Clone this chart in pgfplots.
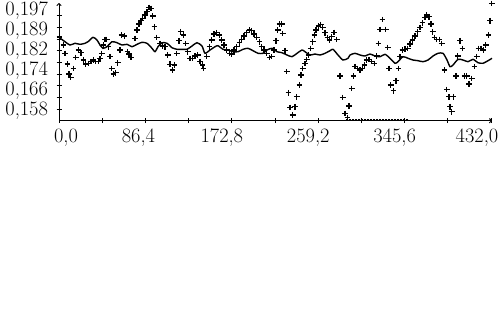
\documentclass[border=0pt]{standalone}
\usepackage{pgfplots}
\pgfplotsset{compat=1.18}
\usetikzlibrary{arrows.meta}
\begin{document}
\begin{tikzpicture}[x=1bp,y=1bp]
\path[use as bounding box] (0,0) rectangle (500,313);
\begin{axis}[
  at={(59bp,192.3bp)}, anchor=south west,
  scale only axis, width=433bp, height=117.7bp,
  xmin=0, xmax=433, ymin=0.15420, ymax=0.20034,
  axis x line=bottom, axis y line=left,
  axis line style={line width=1bp,-{To[length=3bp,width=5bp]}},
  clip=false,
  xtick={0,86.4,172.8,259.2,345.6,432},
  xticklabels={{\hspace*{34bp}0,0},{\hspace*{6bp}86,4},{172,8},{259,2},{345,6},{432,0\hspace*{8bp}}},
  minor xtick={43.2,129.6,216,302.4,388.8},
  ytick={0.15800,0.16584,0.17368,0.18152,0.18936,0.19720},
  yticklabels={{0,158},{0,166},{0,174},{0,182},{0,189},{0,197}},
  minor ytick={0.15866,0.16325,0.16784,0.17242,0.17701,0.18160,0.18618,0.19077,0.19536},
  tick align=center,
  tick style={line width=1bp,black},
  major tick length=5bp, minor tick length=5bp,
  every major y tick/.append style={draw=none},
  ticklabel style={font=\fontsize{20.5}{21}\selectfont},
  xticklabel style={xshift=-10bp, yshift=-2bp},
  yticklabel style={xshift=-5bp},
]
% solid line
\addplot[black, line width=1.4bp, smooth, tension=0.4] coordinates {
(0,0.18689)(6,0.18516)(11,0.18387)(16,0.18454)(21,0.18414)(26,0.18454)(29,0.18516)
(34,0.18689)(38,0.18583)(41,0.18387)(44,0.18258)(48,0.18320)(53,0.18516)(58,0.18477)
(63,0.18387)(68,0.18414)(73,0.18320)(78,0.18414)(83,0.18493)(88,0.18454)(93,0.18258)
(96,0.18124)(99,0.18320)(103,0.18477)(108,0.18454)(113,0.18281)(118,0.18219)(123,0.18219)
(128,0.18219)(133,0.18348)(138,0.18477)(143,0.18348)(146,0.18062)(151,0.18191)(156,0.18320)
(159,0.18360)(164,0.18219)(169,0.18191)(174,0.18124)(179,0.18124)(184,0.18219)(189,0.18258)
(194,0.18164)(199,0.18062)(204,0.18062)(208,0.18191)(213,0.18258)(218,0.18124)(223,0.18085)
(228,0.17995)(233,0.17929)(238,0.18062)(243,0.18191)(246,0.18124)(251,0.17995)(256,0.18034)
(261,0.17995)(266,0.18062)(271,0.18164)(274,0.18219)(279,0.17995)(284,0.17799)(289,0.17866)
(291,0.17995)(296,0.18062)(301,0.17995)(306,0.17956)(311,0.18034)(316,0.17956)(321,0.17929)
(326,0.18022)(331,0.17866)(336,0.17670)(339,0.17733)(344,0.17929)(349,0.17866)(354,0.17799)
(359,0.17772)(364,0.17733)(369,0.17799)(374,0.17956)(379,0.18062)(384,0.18062)(388,0.17799)
(391,0.17537)(394,0.17603)(399,0.17826)(404,0.17799)(409,0.17733)(414,0.17826)(419,0.17693)
(424,0.17670)(429,0.17772)(433,0.17866)
};
% plus markers
\addplot[black, only marks, mark=+, mark size=2.8bp, mark options={line width=1.4bp}] coordinates {
(0.5,0.18701)(4.3,0.18387)(6,0.18062)(8.3,0.17642)(10,0.17250)(11.7,0.17121)(14.3,0.17474)
(16.7,0.17905)(19.3,0.18191)(22,0.18085)(24.3,0.17799)(26.7,0.17642)(29.3,0.17670)(32,0.17733)
(34.3,0.17799)(36.7,0.17733)(39.3,0.17733)(41,0.17866)(42.7,0.18062)(44.3,0.18387)(46,0.18610)
(47.7,0.18610)(49.3,0.18320)(51,0.17929)(52.7,0.17474)(54.3,0.17250)(56.7,0.17301)(58.7,0.17693)
(61,0.18191)(62.7,0.18779)(65.3,0.18740)(68.3,0.18124)(70,0.18034)(72,0.17905)(76,0.18650)
(78,0.18975)(80,0.19210)(82,0.19340)(83.7,0.19434)(86,0.19563)(88,0.19692)(90,0.19865)
(92,0.19826)(93.7,0.19524)(95.3,0.19104)(97.7,0.18689)(101,0.18454)(103.3,0.18348)(106,0.18320)
(108.7,0.17995)(111,0.17631)(113.3,0.17407)(115.3,0.17603)(117.7,0.18062)(120,0.18555)
(121.7,0.18908)(124.3,0.18779)(126.7,0.18454)(128.7,0.18124)(131,0.17866)(133.3,0.17866)
(136,0.17956)(138.7,0.17995)(141,0.17733)(143.3,0.17603)(144.3,0.17474)(147.7,0.17929)
(150.3,0.18320)(152.7,0.18583)(155,0.18818)(157.7,0.18869)(160.3,0.18779)(162.7,0.18583)
(165,0.18387)(167.7,0.18191)(170.3,0.18062)(172.7,0.18034)(175,0.18191)(177.7,0.18320)
(180.3,0.18477)(182.7,0.18610)(185,0.18740)(187.7,0.18869)(190.3,0.18975)(192.7,0.18948)
(195,0.18818)(197.7,0.18689)(200.3,0.18516)(202.7,0.18320)(205,0.18191)(207.7,0.18062)
(210.3,0.17905)(212.7,0.17929)(215,0.18191)(217,0.18555)(218.7,0.18975)(220.3,0.19210)
(222.7,0.19210)(223.7,0.18846)(226,0.18164)(227.7,0.17341)(229.3,0.16517)(231,0.15945)
(233.7,0.15643)(236,0.15968)(237.7,0.16360)(240.3,0.16819)(242,0.17211)(243.7,0.17474)
(246,0.17670)(247.7,0.17826)(249.3,0.17995)(251.7,0.18258)(253.7,0.18516)(255.3,0.18779)
(257,0.18975)(259.3,0.19132)(261.7,0.19198)(263.7,0.19081)(266,0.18869)(268.3,0.18689)
(270.3,0.18583)(272.7,0.18712)(275,0.18885)(277.7,0.18610)(281,0.17172)(283.7,0.16337)
(286,0.15710)(288.3,0.15553)(290,0.15996)(292.7,0.16690)(294.3,0.17172)(296,0.17537)
(298.7,0.17474)(301,0.17407)(303.3,0.17474)(305.3,0.17603)(307.7,0.17799)(310,0.17826)
(312.7,0.17733)(315.3,0.17670)(317.7,0.17956)(319.3,0.18454)(321,0.19002)(323.3,0.19394)
(326.7,0.19002)(328.7,0.18297)(330,0.17474)(331.7,0.16819)(334.3,0.16596)(337,0.16988)
(339.3,0.17474)(341,0.17929)(343.3,0.18191)(346,0.18219)(348.7,0.18258)(351,0.18426)
(353.3,0.18583)(356,0.18740)(358.7,0.18908)(361,0.19081)(363.3,0.19261)(366,0.19473)
(367.7,0.19563)(370,0.19496)(372,0.19210)(373.7,0.18908)(375.3,0.18689)(377.7,0.18610)
(380.3,0.18610)(382.7,0.18454)(385.3,0.17407)(387.7,0.16650)(390,0.16360)(391,0.15968)
(392.7,0.15772)(394.3,0.16360)(397,0.17172)(398.7,0.17956)(401,0.18555)(403.3,0.18258)
(405.3,0.17172)(407.7,0.17172)(410,0.16858)(412.7,0.17082)(415.3,0.17537)(417.7,0.17929)
(419.3,0.18258)(422,0.18258)(424.3,0.18191)(426.7,0.18387)(429.3,0.18779)(431,0.19340)
(432.7,0.20022)
};
% points lying on the lower edge
\addplot[black, only marks, mark=-, mark size=1.4bp, mark options={line width=1bp}] coordinates {
(288,0.15486)(291,0.15486)(294,0.15486)(297,0.15486)(300,0.15486)(303,0.15486)(306,0.15486)
(309,0.15486)(312,0.15486)(315,0.15486)(318,0.15486)(321,0.15486)(324,0.15486)(327,0.15486)
(330,0.15486)(333,0.15486)(336,0.15486)(339,0.15486)(342,0.15486)(345,0.15486)(348,0.15486)
};
\end{axis}
\end{tikzpicture}
\end{document}
